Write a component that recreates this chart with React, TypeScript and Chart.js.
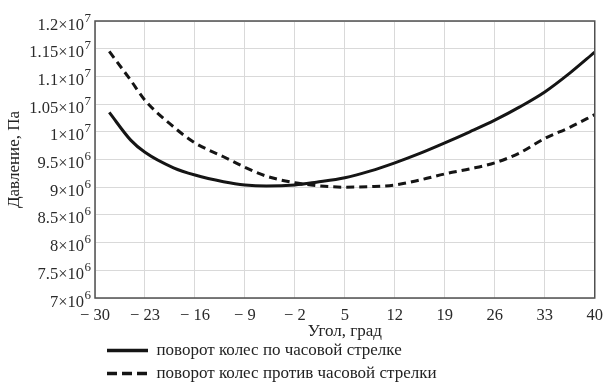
import React, { useEffect, useRef } from 'react';
import { Chart, registerables } from 'chart.js';

Chart.register(...registerables);

const FONT = '"Liberation Serif", "Times New Roman", serif';

const angles = [-28, -25, -23, -19, -16, -12, -9, -6, -2, 1, 5, 8.5, 12, 15.5, 19, 22.5, 26, 29.5, 33, 36.5, 40];

const clockwise = [
  10.35e6, 9.85e6, 9.63e6, 9.35e6, 9.22e6, 9.1e6, 9.04e6, 9.02e6, 9.04e6, 9.09e6, 9.17e6,
  9.29e6, 9.44e6, 9.61e6, 9.8e6, 10.0e6, 10.21e6, 10.45e6, 10.72e6, 11.06e6, 11.44e6,
];

const counterClockwise = [
  11.45e6, 10.93e6, 10.57e6, 10.09e6, 9.8e6, 9.55e6, 9.36e6, 9.2e6, 9.08e6, 9.03e6, 9.0e6,
  9.01e6, 9.04e6, 9.13e6, 9.24e6, 9.33e6, 9.44e6, 9.62e6, 9.88e6, 10.08e6, 10.31e6,
];

const xTicks = [-30, -23, -16, -9, -2, 5, 12, 19, 26, 33, 40];
const yMin = 7e6;
const yMax = 1.2e7;
const yStep = 5e5;

const seriesNames = ['поворот колес по часовой стрелке', 'поворот колес против часовой стрелки'];
const seriesDash: number[][] = [[], [8, 5]];
const legendDash: number[][] = [[], [10, 5]];
const xTitle = 'Угол, град';
const yTitle = 'Давление, Па';

function splitY(v: number): [string, string] {
  const exp = v >= 1e7 ? 7 : 6;
  const m = parseFloat((v / Math.pow(10, exp)).toFixed(3));
  return [`${m}\u00d710`, String(exp)];
}

function fmtX(v: number): string {
  return v < 0 ? `\u2212 ${Math.abs(v)}` : `${v}`;
}

const frame = {
  id: 'frame',
  afterLayout(chart: any) {
    const lg = chart.legend;
    if (lg) {
      lg.left += 101;
      lg.top -= 7;
    }
  },
  afterDatasetsDraw(chart: any) {
    const { ctx, chartArea } = chart;
    ctx.save();
    ctx.strokeStyle = '#505050';
    ctx.lineWidth = 1.5;
    ctx.strokeRect(chartArea.left, chartArea.top, chartArea.right - chartArea.left, chartArea.bottom - chartArea.top);
    ctx.restore();
  },
  afterDraw(chart: any) {
    // y tick labels with superscript exponent, placed from the y scale's own ticks
    const { ctx, chartArea } = chart;
    const ys = chart.scales.y;
    const rightX = chartArea.left - 4;
    ctx.save();
    ctx.fillStyle = '#2a2a2a';
    ctx.textAlign = 'right';
    ctx.textBaseline = 'alphabetic';
    ys.ticks.forEach((t: any) => {
      const y = ys.getPixelForValue(t.value);
      const [mant, exp] = splitY(t.value);
      ctx.font = `13px ${FONT}`;
      const ew = ctx.measureText(exp).width;
      ctx.fillText(exp, rightX, y + 0.5);
      ctx.font = `16.5px ${FONT}`;
      ctx.fillText(mant, rightX - ew - 0.5, y + 8.5);
    });
    ctx.restore();
  },
};

export default function App() {
  const ref = useRef<HTMLCanvasElement | null>(null);

  useEffect(() => {
    if (!ref.current) return;
    const chart = new Chart(ref.current, {
      type: 'line',
      data: {
        datasets: [
          {
            label: seriesNames[0],
            data: angles.map((a, i) => ({ x: a, y: clockwise[i] })),
            borderColor: '#151515',
            backgroundColor: '#151515',
            borderWidth: 3,
            borderDash: seriesDash[0],
            pointRadius: 0,
            cubicInterpolationMode: 'monotone',
          },
          {
            label: seriesNames[1],
            data: angles.map((a, i) => ({ x: a, y: counterClockwise[i] })),
            borderColor: '#151515',
            backgroundColor: '#151515',
            borderWidth: 3,
            borderDash: seriesDash[1],
            pointRadius: 0,
            cubicInterpolationMode: 'monotone',
          },
        ],
      },
      options: {
        animation: false,
        responsive: false,
        layout: { padding: { top: 21, right: 12, left: 0, bottom: -12 } },
        plugins: {
          tooltip: { enabled: false },
          legend: {
            position: 'bottom',
            align: 'start',
            labels: {
              usePointStyle: true,
              pointStyle: 'line',
              pointStyleWidth: 41,
              boxWidth: 41,
              padding: 6,
              color: '#222',
              font: { family: FONT, size: 17 },
              generateLabels: (chart: any) => {
                const items = Chart.defaults.plugins.legend.labels.generateLabels(chart);
                return items.map((it: any, i: number) => ({
                  ...it,
                  lineDash: legendDash[i] || [],
                  lineWidth: 3.5,
                  strokeStyle: '#151515',
                  pointStyle: 'line',
                }));
              },
            },
          },
        },
        scales: {
          x: {
            type: 'linear',
            min: -30,
            max: 40,
            afterBuildTicks: (s: any) => {
              s.ticks = xTicks.map((v) => ({ value: v }));
            },
            afterFit: (s: any) => {
              s.height = 45;
            },
            ticks: {
              callback: (v: any) => fmtX(Number(v)),
              autoSkip: false,
              maxRotation: 0,
              padding: 8,
              color: '#2a2a2a',
              font: { family: FONT, size: 16.5 },
            },
            grid: { color: '#d9d9d9', lineWidth: 1, drawTicks: false },
            border: { display: false },
            title: {
              display: true,
              text: xTitle,
              color: '#222',
              font: { family: FONT, size: 17 },
              padding: { top: 0, bottom: 1 },
            },
          },
          y: {
            type: 'linear',
            min: yMin,
            max: yMax,
            afterFit: (s: any) => {
              s.width = 95;
            },
            ticks: {
              display: false,
              stepSize: yStep,
            },
            grid: { color: '#d9d9d9', lineWidth: 1, drawTicks: false },
            border: { display: false },
            title: {
              display: true,
              text: yTitle,
              color: '#222',
              font: { family: FONT, size: 17 },
              padding: { top: 4, bottom: 0 },
            },
          },
        },
      },
      plugins: [frame],
    } as any);
    return () => chart.destroy();
  }, []);

  return (
    <div style={{ position: 'absolute', left: 0, top: 0, width: 611, height: 387, background: '#fff' }}>
      <canvas ref={ref} width={611} height={387} />
    </div>
  );
}
